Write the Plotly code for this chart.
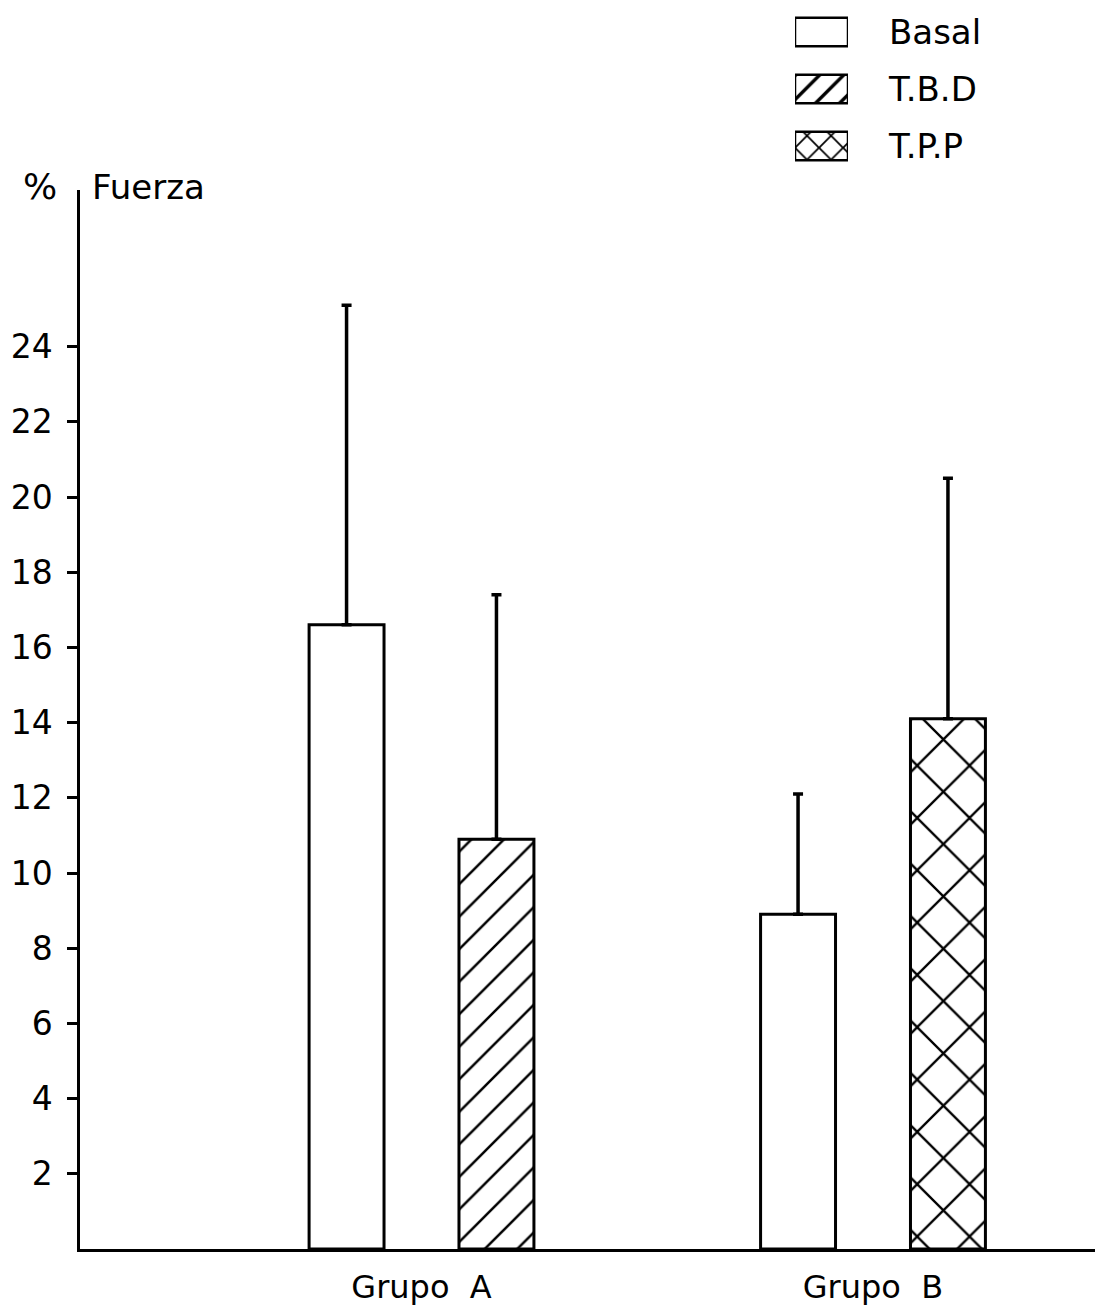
import plotly.graph_objects as go

# --- data -------------------------------------------------------------
groups = ["Grupo\u00a0\u00a0A", "Grupo\u00a0\u00a0B"]
group_pos = [1, 2]

basal_vals = [16.6, 8.9]
basal_err = [8.5, 3.2]

tbd_vals = [10.9]
tbd_err = [6.5]

tpp_vals = [14.1]
tpp_err = [6.4]

y_ticks = [2, 4, 6, 8, 10, 12, 14, 16, 18, 20, 22, 24]
legend_labels = ["Basal", "T.B.D", "T.P.P"]

# --- geometry / style --------------------------------------------------
W, H = 1098, 1312
ML, MR, MT, MB = 80, 3, 0, 63
plot_w = W - ML - MR
plot_h = H - MT - MB

FONT = "DejaVu Sans"
BAR_W = 0.166
INK = "black"


def px_x(px):
    return (px - ML) / plot_w


def px_y(py):
    return (H - MB - py) / plot_h


def hatch(shape, size, solidity):
    return dict(shape=shape, size=size, solidity=solidity, fgcolor=INK,
                fgopacity=1, bgcolor="white", fillmode="overlay")


fig = go.Figure()

bar_line = dict(color=INK, width=3)
err_style = dict(type="data", symmetric=False, thickness=3.5, width=5, color=INK)

fig.add_trace(go.Bar(
    x=group_pos, y=basal_vals, width=BAR_W, offset=-1.5 * BAR_W,
    marker=dict(color="white", line=bar_line),
    error_y=dict(array=basal_err, arrayminus=[0] * len(basal_err), **err_style),
    showlegend=False,
))
fig.add_trace(go.Bar(
    x=group_pos[:1], y=tbd_vals, width=BAR_W, offset=0.5 * BAR_W,
    marker=dict(color="white", line=bar_line, pattern=hatch("/", 23, 0.11)),
    error_y=dict(array=tbd_err, arrayminus=[0], **err_style),
    showlegend=False,
))
fig.add_trace(go.Bar(
    x=group_pos[1:], y=tpp_vals, width=BAR_W, offset=0.5 * BAR_W,
    marker=dict(color="white", line=bar_line, pattern=hatch("x", 37, 0.12)),
    error_y=dict(array=tpp_err, arrayminus=[0], **err_style),
    showlegend=False,
))

# legend swatches drawn as bars on a small inset axis
fig.add_trace(go.Bar(
    x=[1, 1, 1], y=[0, 1, 2], orientation="h", width=0.5,
    xaxis="x2", yaxis="y2",
    marker=dict(color="white", line=dict(color=INK, width=2.5),
                pattern=hatch(["", "/", "x"], 17, 0.2)),
    showlegend=False, hoverinfo="skip",
))

y_top_px = 190
fig.update_layout(
    width=W, height=H,
    margin=dict(l=ML, r=MR, t=MT, b=MB),
    paper_bgcolor="white", plot_bgcolor="white",
    barmode="overlay",
    font=dict(family=FONT, color=INK, size=32),
    xaxis=dict(
        range=[0.2436, 2.4917], tickvals=group_pos, ticktext=groups,
        showline=True, linecolor=INK, linewidth=2.5, ticks="",
        showgrid=False, zeroline=False, tickfont=dict(size=32),
        ticklabelstandoff=8,
    ),
    yaxis=dict(
        range=[0, (H - MB - y_top_px) / 37.6], domain=[0, px_y(y_top_px)],
        tickvals=y_ticks, ticks="outside", ticklen=10, tickwidth=2.5,
        tickcolor=INK, showline=True, linecolor=INK, linewidth=2.5,
        showgrid=False, zeroline=False, tickfont=dict(size=33),
        ticklabelstandoff=8,
    ),
    xaxis2=dict(
        domain=[px_x(795), px_x(848)], range=[0, 1], anchor="y2",
        visible=False, fixedrange=True,
    ),
    yaxis2=dict(
        domain=[px_y(174.5), px_y(3.5)], range=[2.5, -0.5], anchor="x2",
        side="right", tickvals=[0, 1, 2], ticktext=legend_labels,
        showline=False, showgrid=False, zeroline=False, ticks="",
        tickfont=dict(size=34), ticklabelstandoff=40,
    ),
    annotations=[
        dict(text="%", x=px_x(40), y=px_y(186), xref="paper", yref="paper",
             showarrow=False, font=dict(size=36), xanchor="center", yanchor="middle"),
        dict(text="Fuerza", x=px_x(90), y=px_y(187), xref="paper", yref="paper",
             showarrow=False, font=dict(size=34), xanchor="left", yanchor="middle"),
    ],
)

fig.write_html("out.html")
